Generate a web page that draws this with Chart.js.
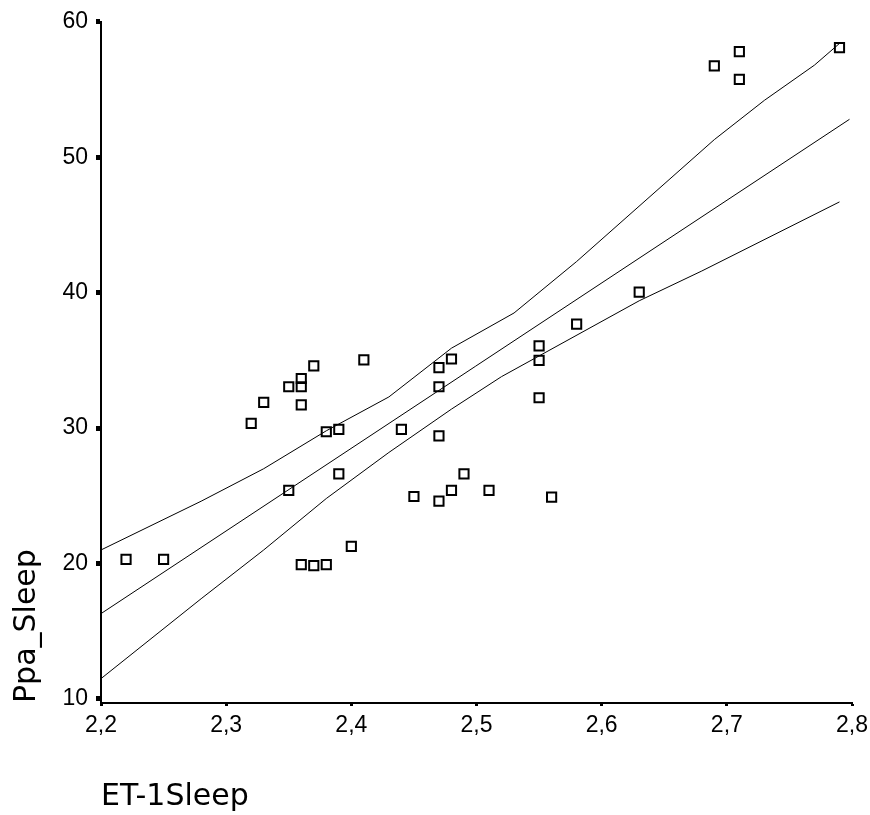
<!DOCTYPE html>
<html>
<head>
<meta charset="utf-8">
<script src="https://cdn.jsdelivr.net/npm/chart.js@4.4.1/dist/chart.umd.min.js"></script>
<style>
  body { margin: 0; background: #fff; }
  canvas { display: block; }
</style>
</head>
<body>
<canvas id="chart" width="870" height="815"></canvas>
<script>
// observed points (ET-1Sleep, Ppa_Sleep)
const pointsX = [2.22, 2.25, 2.32, 2.33, 2.35, 2.36, 2.36, 2.36, 2.37, 2.35,
  2.36, 2.37, 2.38, 2.38, 2.39, 2.39, 2.40, 2.41, 2.44, 2.45,
  2.47, 2.47, 2.47, 2.47, 2.48, 2.48, 2.49, 2.51, 2.55, 2.55,
  2.55, 2.56, 2.58, 2.63, 2.69, 2.71, 2.71, 2.79];
const pointsY = [20.3, 20.3, 30.35, 31.9, 33.05, 33.66, 33.05, 31.72, 34.6, 25.4,
  19.92, 19.85, 19.92, 29.73, 29.9, 26.62, 21.27, 35.04, 29.9, 24.95,
  34.47, 33.05, 29.42, 24.6, 35.1, 25.4, 26.62, 25.4, 36.07, 35.0,
  32.24, 24.9, 37.67, 40.04, 56.74, 57.8, 55.75, 58.1];

// fitted line
const fitX = [2.2, 2.798];
const fitY = [16.3, 52.8];

// upper confidence band
const upperX = [2.2, 2.28, 2.33, 2.38, 2.43, 2.48, 2.53, 2.58, 2.69, 2.73, 2.77, 2.79];
const upperY = [21.0, 24.6, 27.0, 29.8, 32.3, 35.9, 38.5, 42.3, 51.3, 54.2, 56.8, 58.4];

// lower confidence band
const lowerX = [2.2, 2.28, 2.33, 2.38, 2.43, 2.48, 2.52, 2.63, 2.68, 2.79];
const lowerY = [11.5, 17.4, 21.0, 24.8, 28.2, 31.4, 33.8, 39.4, 41.6, 46.7];

const xTickValues = [2.2, 2.3, 2.4, 2.5, 2.6, 2.7, 2.8];
const xTickLabels = ["2,2", "2,3", "2,4", "2,5", "2,6", "2,7", "2,8"];
const yTickValues = [10, 20, 30, 40, 50, 60];
const yTickLabels = ["10", "20", "30", "40", "50", "60"];

function toXY(xs, ys) {
  return xs.map((x, i) => ({ x: x, y: ys[i] }));
}

function lineSet(xs, ys) {
  return {
    type: "line",
    data: toXY(xs, ys),
    borderColor: "#000",
    borderWidth: 1,
    pointRadius: 0,
    fill: false,
    tension: 0,
  };
}

const tickFont = { family: "Liberation Sans", size: 23 };
const titleFont = { family: "DejaVu Sans", size: 30 };

new Chart(document.getElementById("chart"), {
  type: "scatter",
  data: {
    datasets: [
      {
        data: toXY(pointsX, pointsY),
        pointStyle: "rect",
        pointRadius: 6.5,
        pointBorderWidth: 2,
        pointBorderColor: "#000",
        pointBackgroundColor: "rgba(0,0,0,0)",
      },
      lineSet(fitX, fitY),
      lineSet(upperX, upperY),
      lineSet(lowerX, lowerY),
    ],
  },
  options: {
    responsive: false,
    animation: false,
    layout: { padding: { top: 20, right: 18, left: 0, bottom: 0 } },
    plugins: { legend: { display: false }, tooltip: { enabled: false } },
    scales: {
      x: {
        min: 2.2,
        max: 2.8,
        afterBuildTicks: (s) => { s.ticks = xTickValues.map((v) => ({ value: v })); },
        afterFit: (s) => {
          s.height = 112;
          s.paddingRight = 0;
          s.paddingLeft = 0;
        },
        border: { color: "#000", width: 2 },
        grid: { drawOnChartArea: false, color: "#000", tickLength: 3, tickWidth: 3 },
        ticks: {
          color: "#000",
          font: tickFont,
          padding: 6,
          maxRotation: 0,
          callback: (v, i) => xTickLabels[i],
        },
        title: {
          display: true,
          text: "ET-1Sleep",
          align: "start",
          color: "#000",
          font: titleFont,
          padding: { top: -1, bottom: 0 },
        },
      },
      y: {
        min: 9.7,
        max: 60,
        afterBuildTicks: (s) => { s.ticks = yTickValues.map((v) => ({ value: v })); },
        afterFit: (s) => { s.width = 101; },
        border: { color: "#000", width: 2 },
        grid: { drawOnChartArea: false, color: "#000", tickLength: 5, tickWidth: 5 },
        ticks: {
          color: "#000",
          font: tickFont,
          padding: 8,
          callback: (v, i) => yTickLabels[i],
        },
        title: {
          display: true,
          text: "Ppa_Sleep",
          align: "start",
          color: "#000",
          font: titleFont,
          padding: { top: 9, bottom: 0 },
        },
      },
    },
  },
});
</script>
</body>
</html>
